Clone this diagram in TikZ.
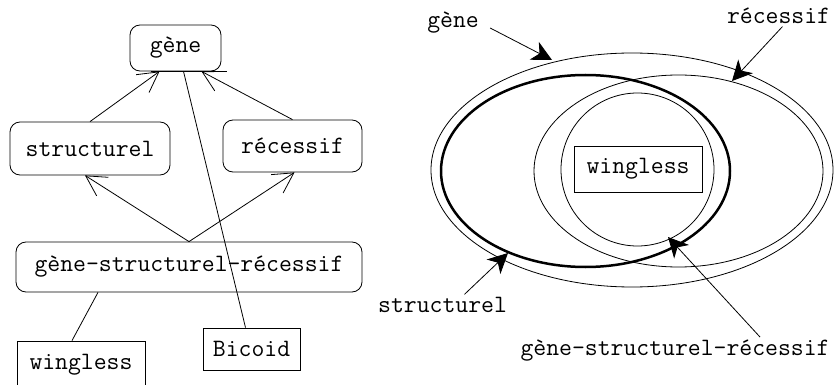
\documentclass[tikz,border=0pt]{standalone}
\usepackage{fontspec}
\usetikzlibrary{arrows.meta, shapes.geometric}

\begin{document}
\begin{tikzpicture}[
    x=1pt, y=-1pt,
    line width=0.8pt,
    font=\ttfamily\fontsize{25}{30}\selectfont,
    rbox/.style={rectangle, rounded corners=10pt, draw, inner sep=0pt},
    sbox/.style={rectangle, draw, inner sep=0pt},
    tag/.style={inner sep=2pt},
    isa/.style={-{Straight Barb[length=20pt, width=22pt]}},
    pointer/.style={-{Stealth[length=20pt, width=20pt, inset=6pt]}}
]
\useasboundingbox (0,0) rectangle (836,385);

% hierarchy
\node[rbox, minimum width=91pt, minimum height=46pt] (gene) at (175.5,48) {gène};
\node[rbox, minimum width=160pt, minimum height=53pt] (struct) at (90,148.5) {structurel};
\node[rbox, minimum width=139pt, minimum height=52pt] (rec) at (292.5,146) {récessif};
\node[rbox, minimum width=346pt, minimum height=50pt] (gsr) at (189,267) {gène-structurel-récessif};
\node[sbox, minimum width=128pt, minimum height=56pt, text height=12pt, text depth=12pt] (wingL) at (81,369) {wingless};
\node[sbox, minimum width=97pt, minimum height=42pt] (bicoid) at (251.5,349) {Bicoid};

\draw ([xshift=-25pt]gene.south) -- ([xshift=6pt]gene.south east);

\draw[isa] (struct.north) -- ([xshift=-16pt]gene.south);
\draw[isa] (rec.north) -- ([xshift=26pt]gene.south);
\draw[isa] (gsr.north) -- ([xshift=-5pt]struct.south);
\draw[isa] (gsr.north) -- ([xshift=2pt]rec.south);
\draw ([xshift=-91pt]gsr.south) -- ([xshift=-9pt]wingL.north);
\draw ([xshift=8pt]gene.south) -- ([xshift=-6pt]bicoid.north);

% sets
\draw (632,170) ellipse [x radius=201, y radius=117];
\draw[line width=2.5pt] (585.5,171) ellipse [x radius=144.5, y radius=96];
\draw (678.5,171) ellipse [x radius=144.5, y radius=96];
\draw (637.5,169.5) circle [radius=76.5];
\node[sbox, minimum width=128pt, minimum height=46pt] (wingR) at (638,169) {wingless};

\node[tag, anchor=base] (geneL) at (453,28) {gène};
\node[tag, anchor=base] (recL) at (778.5,24) {récessif};
\node[tag, anchor=base] (strL) at (442.5,312) {structurel};
\node[tag, anchor=base] (gsrL) at (675,355) {gène-structurel-récessif};

\coordinate (pGene) at (552,60);
\coordinate (pRec) at (732,81);
\coordinate (pStr) at (508,253);
\coordinate (pGsr) at (668,237);

\draw[pointer] ([xshift=9pt]geneL.base east) -- (pGene);
\draw[pointer] ([xshift=4pt]recL.south) -- (pRec);
\draw[pointer] ([xshift=22pt]strL.north) -- (pStr);
\draw[pointer] ([xshift=85pt]gsrL.north) -- (pGsr);

\end{tikzpicture}
\end{document}
